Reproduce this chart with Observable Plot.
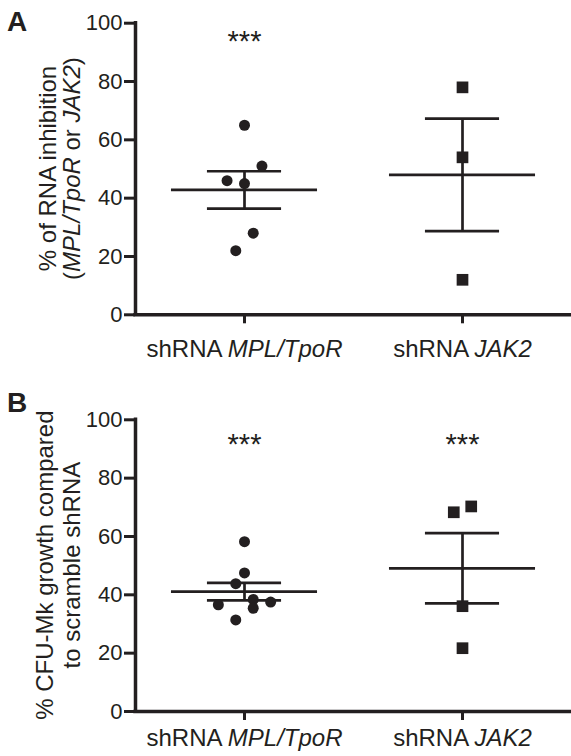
<!DOCTYPE html>
<html><head><meta charset="utf-8">
<script src="https://cdn.jsdelivr.net/npm/d3@7"></script>
<script src="https://cdn.jsdelivr.net/npm/@observablehq/plot@0.6"></script>
<style>
body{margin:0;background:#fff;overflow:hidden;}
#chart svg{display:block;}
</style></head><body><div id="chart"></div>
<script>
// ---- data ----
const categories = ["shRNA MPL/TpoR", "shRNA JAK2"];
const yTicks = [0, 20, 40, 60, 80, 100];
// Panel A: % of RNA inhibition
const aMPL = [65, 51, 46, 45, 28, 22];
const aMPLSlot = [0, 2, -2, 0, 1, -1];
const aJAK2 = [78, 54, 12];
const aJAK2Slot = [0, 0, 0];
const aStars = ["***", ""];
// Panel B: % CFU-Mk growth compared to scramble shRNA
const bMPL = [58.2, 47.5, 43.8, 38.4, 37.5, 36.6, 35.4, 31.4];
const bMPLSlot = [0, 0, -1, 1, 3, -3, 1, -1];
const bJAK2 = [70.3, 68.3, 36.1, 21.7];
const bJAK2Slot = [1, -1, 0, 0];
const bStars = ["***", "***"];

// ---- style ----
const ink = "#231f20";
const FONT = "'Liberation Sans', Arial, Helvetica, sans-serif";
const SLOT = 0.04, MEAN_HW = 0.335, CAP_HW = 0.17;
const W = 571, H = 378;

function italicize(textSel, parts) {
  textSel.text(null);
  parts.forEach(([s, it]) => {
    const ts = textSel.append("tspan").text(s);
    if (it) ts.attr("font-style", "italic");
  });
}

function panel({groups, stars, starY, letter, letterY, titleLines, titleX, marginTop, marginBottom, labelPad}) {
  const pts = groups.flatMap((g, i) => g.values.map((v, j) => ({x: i + 0.5 + g.slots[j] * SLOT, y: v, shape: g.shape})));
  const stats = groups.map((g, i) => {
    const m = d3.mean(g.values);
    const se = d3.deviation(g.values) / Math.sqrt(g.values.length);
    return {c: i + 0.5, m, lo: m - se, hi: m + se};
  });
  const lw = 2.7;
  const svg = Plot.plot({
    width: W, height: H, marginLeft: 135, marginRight: 0, marginTop, marginBottom,
    style: {fontFamily: FONT, fontSize: "22px", color: ink, background: "#fff", overflow: "visible"},
    x: {domain: [0, 2]},
    y: {domain: [0, 100]},
    marks: [
      Plot.ruleY(stats, {y: "m", x1: d => d.c - MEAN_HW, x2: d => d.c + MEAN_HW, stroke: ink, strokeWidth: lw}),
      Plot.ruleY(stats, {y: "hi", x1: d => d.c - CAP_HW, x2: d => d.c + CAP_HW, stroke: ink, strokeWidth: lw}),
      Plot.ruleY(stats, {y: "lo", x1: d => d.c - CAP_HW, x2: d => d.c + CAP_HW, stroke: ink, strokeWidth: lw}),
      Plot.ruleX(stats, {x: "c", y1: "lo", y2: "hi", stroke: ink, strokeWidth: lw}),
      Plot.dot(pts.filter(d => d.shape === "circle"), {x: "x", y: "y", r: 5.5, fill: ink, stroke: "none", symbol: "circle"}),
      Plot.dot(pts.filter(d => d.shape === "square"), {x: "x", y: "y", r: 6.6, fill: ink, stroke: "none", symbol: "square"}),
      Plot.text(stars.map((s, i) => ({c: i + 0.5, s})), {x: "c", y: () => starY, text: "s", fontSize: 29, fill: ink}),
      Plot.axisY({ticks: yTicks, tickSize: 11, tickPadding: 2, strokeWidth: 3, label: null}),
      Plot.axisX({ticks: [0.5, 1.5], tickFormat: d => categories[Math.round(d - 0.5)], tickSize: 9, tickPadding: labelPad, strokeWidth: 3, fontSize: 24, label: null}),
      Plot.ruleX([0], {y1: 0, y2: 100, stroke: ink, strokeWidth: 3.5, strokeLinecap: "square"}),
      Plot.ruleY([0], {x1: 0, x2: 2, stroke: ink, strokeWidth: 3.5, strokeLinecap: "square"})
    ]
  });
  const s = d3.select(svg);
  // italic gene names in category labels
  s.selectAll('g[aria-label="x-axis tick label"] text').each(function() {
    const t = d3.select(this);
    const str = t.text();
    const k = str.indexOf(" ");
    italicize(t, [[str.slice(0, k + 1), false], [str.slice(k + 1), true]]);
  });
  // y-axis title (two lines, rotated)
  const cy = marginTop + (H - marginTop - marginBottom) / 2;
  titleLines.forEach((parts, i) => {
    const t = s.append("text")
      .attr("transform", `translate(${titleX[i]},${cy}) rotate(-90)`)
      .attr("text-anchor", "middle").attr("font-size", 24).attr("fill", ink)
      .attr("font-family", FONT);
    italicize(t, parts);
  });
  // panel letter
  s.append("text").attr("x", 17).attr("y", letterY).attr("font-size", 28).attr("font-weight", "bold")
    .attr("fill", ink).attr("font-family", FONT).text(letter);
  return svg;
}

const chart = document.getElementById("chart");
chart.append(panel({
  groups: [{values: aMPL, slots: aMPLSlot, shape: "circle"}, {values: aJAK2, slots: aJAK2Slot, shape: "square"}],
  stars: aStars, starY: 93.7, letter: "A", letterY: 31,
  titleLines: [[["% of RNA inhibition", false]], [["(", false], ["MPL/TpoR", true], [" or ", false], ["JAK2", true], [")", false]]],
  titleX: [56, 80],
  marginTop: 22.7, marginBottom: 63.7, labelPad: 16
}));
chart.append(panel({
  groups: [{values: bMPL, slots: bMPLSlot, shape: "circle"}, {values: bJAK2, slots: bJAK2Slot, shape: "square"}],
  stars: bStars, starY: 91.4, letter: "B", letterY: 34,
  titleLines: [[["% CFU-Mk growth compared", false]], [["to scramble shRNA", false]]],
  titleX: [53, 80],
  marginTop: 41.3, marginBottom: 45, labelPad: 8
}));
</script></body></html>
